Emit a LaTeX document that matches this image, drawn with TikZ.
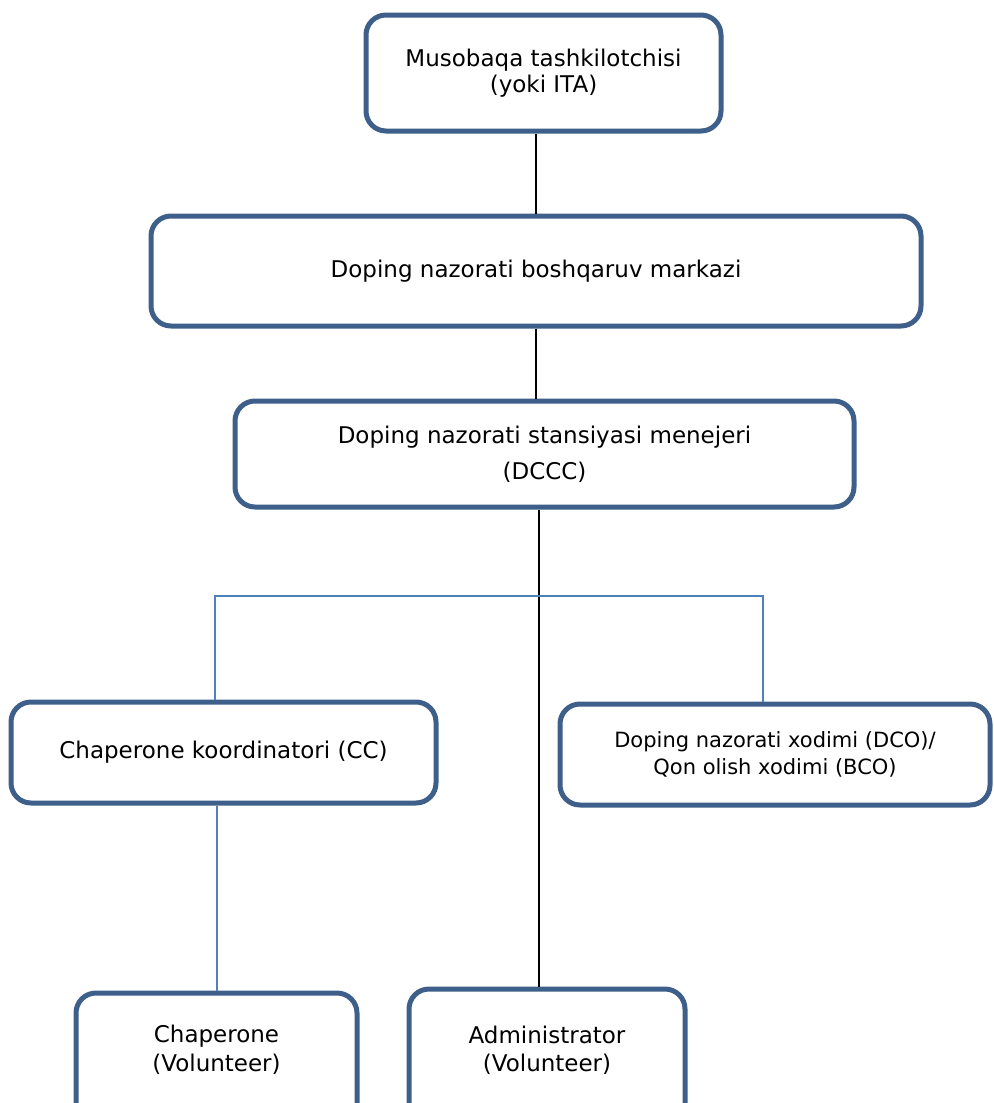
\documentclass[tikz,border=0pt]{standalone}
\usepackage{fontspec}
\setmainfont{DejaVu Sans}
\definecolor{boxblue}{HTML}{3E5F8A}
\definecolor{linkblue}{HTML}{4F81BD}
\tikzset{
x=0.5pt, y=-0.5pt, % one unit is one pixel of the page, y runs downwards
every node/.style={align=center, font=\fontsize{11.5}{13}\selectfont}, % text of every box
role/.style={draw=boxblue, line width=2.5pt, rounded corners=10pt, fill=white, inner sep=0pt}, % the boxes
link/.style={draw=black, line width=1pt}, % main chain
sublink/.style={draw=linkblue, line width=1pt}, % side branches
}

\begin{document}
\begin{tikzpicture}
        \useasboundingbox (0,0) rectangle (993,1103);
        \clip (0,0) rectangle (993,1103);

        \node[role, minimum width=177.5pt, minimum height=58pt] (org) at (543.5,73) {Musobaqa tashkilotchisi\\(yoki ITA)};
        \node[role, minimum width=385pt, minimum height=55pt] (dcc) at (536,271) {Doping nazorati boshqaruv markazi};
        \node[role, minimum width=309.5pt, minimum height=53pt] (dccc) at (544.5,454) {Doping nazorati stansiyasi menejeri\\[5pt](DCCC)};
        \node[role, minimum width=212.5pt, minimum height=50.5pt] (cc) at (223.5,752.5) {Chaperone koordinatori (CC)};
        \node[role, minimum width=215pt, minimum height=50.5pt, font=\fontsize{10.5}{13.5}\selectfont] (dco) at (775,754.5) {Doping nazorati xodimi (DCO)/\\Qon olish xodimi (BCO)};
        \node[role, minimum width=140.5pt, minimum height=68.5pt, text depth=13.2pt, font=\fontsize{11.5}{14.5}\selectfont] (chap) at (216.5,1061.5) {Chaperone\\(Volunteer)};
        \node[role, minimum width=138pt, minimum height=70.5pt, text depth=11.2pt, font=\fontsize{11.5}{14}\selectfont] (admin) at (547,1059.5) {Administrator\\(Volunteer)};

        \coordinate (bus) at (539,596);
        \coordinate (busl) at (215,596);
        \coordinate (busr) at (763,596);

        \draw[link] (dcc.north) -- (dcc.north |- org.south);
        \draw[link] (dcc.south) -- (dcc.south |- dccc.north);
        \draw[link] (dccc.south -| bus) -- (admin.north -| bus);
        \draw[sublink] (cc.north -| busl) -- (busl) -- (busr) -- (dco.north -| busr);
        \draw[sublink] (chap.north) -- (chap.north |- cc.south);
    \end{tikzpicture}
\end{document}
